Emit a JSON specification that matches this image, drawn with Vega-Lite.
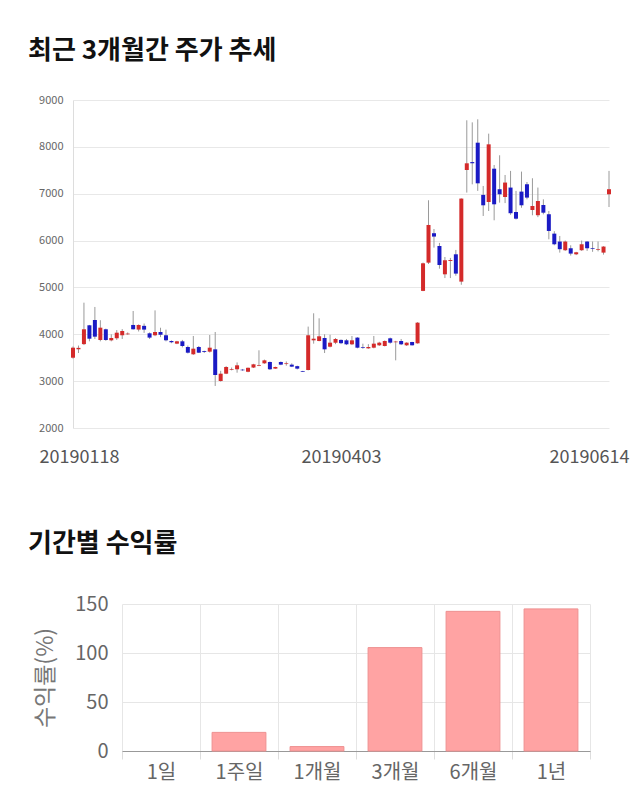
{
  "$schema": "https://vega.github.io/schema/vega-lite/v6.json",
  "background": "white",
  "padding": {"left": 28, "top": 38, "right": 5, "bottom": 5},
  "config": {
    "font": "Noto Sans CJK KR",
    "view": {"stroke": null}
  },
  "spacing": 65,
  "vconcat": [
    {
      "width": 536,
      "height": 328,
      "title": {"text": "최근 3개월간 주가 추세", "anchor": "start", "frame": "group", "dx": -45, "offset": 30, "fontSize": 26, "fontWeight": "bold", "color": "#111", "font": "Noto Sans CJK KR"},
      "data": {"values": [
        {"d":"20190118","o":3500,"c":3714,"h":3740,"l":3480},
        {"d":"20190121","o":3680,"c":3710,"h":3760,"l":3600},
        {"d":"20190122","o":3790,"c":4107,"h":4675,"l":3770},
        {"d":"20190123","o":4192,"c":3906,"h":4200,"l":3850},
        {"d":"20190124","o":4305,"c":3949,"h":4583,"l":3900},
        {"d":"20190125","o":3878,"c":4141,"h":4300,"l":3850},
        {"d":"20190128","o":4107,"c":3878,"h":4120,"l":3860},
        {"d":"20190129","o":3871,"c":3921,"h":4000,"l":3850},
        {"d":"20190130","o":3915,"c":4034,"h":4090,"l":3880},
        {"d":"20190131","o":3979,"c":4070,"h":4110,"l":3900},
        {"d":"20190201","o":4000,"c":4015,"h":4040,"l":3990},
        {"d":"20190207","o":4199,"c":4107,"h":4497,"l":4100},
        {"d":"20190208","o":4100,"c":4199,"h":4210,"l":4060},
        {"d":"20190211","o":4180,"c":4100,"h":4230,"l":4030},
        {"d":"20190212","o":4021,"c":3929,"h":4040,"l":3900},
        {"d":"20190213","o":3979,"c":4049,"h":4510,"l":3960},
        {"d":"20190214","o":4049,"c":3990,"h":4140,"l":3940},
        {"d":"20190215","o":3979,"c":3872,"h":4100,"l":3850},
        {"d":"20190218","o":3857,"c":3830,"h":3870,"l":3810},
        {"d":"20190219","o":3800,"c":3850,"h":3860,"l":3790},
        {"d":"20190220","o":3850,"c":3750,"h":3880,"l":3720},
        {"d":"20190221","o":3729,"c":3607,"h":3760,"l":3590},
        {"d":"20190222","o":3573,"c":3693,"h":3964,"l":3560},
        {"d":"20190225","o":3729,"c":3607,"h":3750,"l":3600},
        {"d":"20190226","o":3640,"c":3622,"h":3650,"l":3600},
        {"d":"20190227","o":3629,"c":3714,"h":3985,"l":3610},
        {"d":"20190228","o":3679,"c":3131,"h":4049,"l":2897},
        {"d":"20190304","o":3003,"c":3159,"h":3220,"l":2990},
        {"d":"20190305","o":3159,"c":3302,"h":3320,"l":3150},
        {"d":"20190306","o":3240,"c":3255,"h":3290,"l":3230},
        {"d":"20190307","o":3253,"c":3338,"h":3400,"l":3180},
        {"d":"20190308","o":3245,"c":3232,"h":3260,"l":3220},
        {"d":"20190311","o":3200,"c":3285,"h":3290,"l":3190},
        {"d":"20190312","o":3290,"c":3359,"h":3370,"l":3280},
        {"d":"20190313","o":3325,"c":3340,"h":3658,"l":3320},
        {"d":"20190314","o":3380,"c":3444,"h":3460,"l":3370},
        {"d":"20190315","o":3409,"c":3253,"h":3420,"l":3240},
        {"d":"20190318","o":3267,"c":3302,"h":3310,"l":3260},
        {"d":"20190319","o":3409,"c":3352,"h":3420,"l":3340},
        {"d":"20190320","o":3365,"c":3380,"h":3420,"l":3330},
        {"d":"20190321","o":3352,"c":3309,"h":3380,"l":3300},
        {"d":"20190322","o":3320,"c":3267,"h":3330,"l":3250},
        {"d":"20190325","o":3215,"c":3200,"h":3220,"l":3195},
        {"d":"20190326","o":3238,"c":3979,"h":4164,"l":3230},
        {"d":"20190327","o":3871,"c":3906,"h":4448,"l":3800},
        {"d":"20190328","o":3857,"c":3957,"h":4341,"l":3850},
        {"d":"20190329","o":3921,"c":3679,"h":4000,"l":3600},
        {"d":"20190401","o":3735,"c":3821,"h":3990,"l":3720},
        {"d":"20190402","o":3820,"c":3900,"h":3920,"l":3790},
        {"d":"20190403","o":3880,"c":3810,"h":3890,"l":3790},
        {"d":"20190404","o":3871,"c":3786,"h":3900,"l":3770},
        {"d":"20190405","o":3786,"c":3871,"h":3964,"l":3770},
        {"d":"20190408","o":3929,"c":3714,"h":3940,"l":3700},
        {"d":"20190409","o":3725,"c":3710,"h":3800,"l":3690},
        {"d":"20190410","o":3700,"c":3729,"h":3790,"l":3690},
        {"d":"20190411","o":3714,"c":3800,"h":3964,"l":3700},
        {"d":"20190412","o":3765,"c":3821,"h":3840,"l":3750},
        {"d":"20190415","o":3750,"c":3857,"h":3870,"l":3740},
        {"d":"20190416","o":3914,"c":3821,"h":3930,"l":3800},
        {"d":"20190417","o":3830,"c":3845,"h":3860,"l":3444},
        {"d":"20190418","o":3857,"c":3786,"h":3900,"l":3770},
        {"d":"20190419","o":3765,"c":3821,"h":3830,"l":3750},
        {"d":"20190422","o":3836,"c":3765,"h":3840,"l":3760},
        {"d":"20190423","o":3807,"c":4248,"h":4260,"l":3800},
        {"d":"20190424","o":4926,"c":5515,"h":5530,"l":4920},
        {"d":"20190425","o":5529,"c":6333,"h":6860,"l":5500},
        {"d":"20190426","o":6157,"c":6085,"h":6247,"l":5850},
        {"d":"20190429","o":5884,"c":5479,"h":5950,"l":5400},
        {"d":"20190430","o":5280,"c":5580,"h":5650,"l":5200},
        {"d":"20190502","o":5565,"c":5586,"h":5630,"l":5200},
        {"d":"20190503","o":5707,"c":5295,"h":5800,"l":5250},
        {"d":"20190507","o":5124,"c":6896,"h":6900,"l":5057},
        {"d":"20190508","o":7506,"c":7649,"h":8567,"l":7024},
        {"d":"20190509","o":7675,"c":7650,"h":8523,"l":7200},
        {"d":"20190510","o":8089,"c":7222,"h":8588,"l":7060},
        {"d":"20190513","o":6975,"c":6753,"h":7165,"l":6525},
        {"d":"20190514","o":6823,"c":8054,"h":8282,"l":6631},
        {"d":"20190515","o":7534,"c":6774,"h":7613,"l":6433},
        {"d":"20190516","o":7096,"c":6988,"h":7820,"l":6810},
        {"d":"20190517","o":6930,"c":7238,"h":7400,"l":6800},
        {"d":"20190520","o":7131,"c":6584,"h":7487,"l":6550},
        {"d":"20190521","o":6610,"c":6467,"h":7060,"l":6450},
        {"d":"20190522","o":7045,"c":6753,"h":7472,"l":6700},
        {"d":"20190523","o":7202,"c":6917,"h":7250,"l":6880},
        {"d":"20190524","o":6653,"c":6738,"h":7330,"l":6540},
        {"d":"20190527","o":6541,"c":6845,"h":7131,"l":6500},
        {"d":"20190528","o":6759,"c":6595,"h":6880,"l":6560},
        {"d":"20190529","o":6562,"c":6205,"h":6631,"l":6027},
        {"d":"20190530","o":6148,"c":5921,"h":6200,"l":5900},
        {"d":"20190531","o":5979,"c":5816,"h":6098,"l":5743},
        {"d":"20190603","o":5794,"c":5979,"h":6000,"l":5780},
        {"d":"20190604","o":5836,"c":5722,"h":5900,"l":5680},
        {"d":"20190605","o":5707,"c":5750,"h":5760,"l":5690},
        {"d":"20190607","o":5794,"c":5921,"h":6000,"l":5780},
        {"d":"20190610","o":5979,"c":5836,"h":5990,"l":5780},
        {"d":"20190611","o":5840,"c":5825,"h":5980,"l":5760},
        {"d":"20190612","o":5805,"c":5820,"h":5980,"l":5770},
        {"d":"20190613","o":5743,"c":5872,"h":5880,"l":5700},
        {"d":"20190614","o":6988,"c":7096,"h":7487,"l":6716}
      ]},
      "encoding": {
        "x": {
          "field": "d", "type": "ordinal", "sort": null,
          "scale": {"type": "point", "padding": 0},
          "axis": {
            "title": null,
            "values": ["20190118", "20190403", "20190614"],
            "labelAngle": 0,
            "labelFontSize": 18,
            "labelColor": "#555",
            "labelPadding": 20,
            "labelOffset": {"condition": [{"test": "datum.value == '20190614'", "value": -20}, {"test": "datum.value == '20190118'", "value": 6}], "value": 0},
            "ticks": false,
            "domain": false,
            "grid": false
          }
        }
      },
      "layer": [
        {
          "mark": {"type": "rule", "color": "#9a9a9a", "strokeWidth": 1},
          "encoding": {
            "y": {
              "field": "l", "type": "quantitative",
              "scale": {"domain": [2000, 9000], "nice": false, "zero": false},
              "axis": {
                "title": null,
                "values": [2000, 3000, 4000, 5000, 6000, 7000, 8000, 9000],
                "format": "d",
                "labelFontSize": 11,
                "labelColor": "#666",
                "labelPadding": 10,
                "ticks": false,
                "domain": true,
                "domainColor": "#dddddd",
                "gridColor": "#e8e8e8"
              }
            },
            "y2": {"field": "h"}
          }
        },
        {
          "mark": {"type": "bar", "size": 4},
          "encoding": {
            "y": {"field": "o", "type": "quantitative"},
            "y2": {"field": "c"},
            "color": {
              "condition": {"test": "datum.c >= datum.o", "value": "#d42a2a"},
              "value": "#1a1ac4"
            }
          }
        }
      ]
    },
    {
      "width": 517,
      "height": 147,
      "title": {"text": "기간별 수익률", "anchor": "start", "frame": "group", "dx": -45, "offset": 37, "fontSize": 26, "fontWeight": "bold", "color": "#111", "font": "Noto Sans CJK KR"},
      "data": {"values": [
        {"p": "1일", "v": null},
        {"p": "1주일", "v": 19},
        {"p": "1개월", "v": 4.5},
        {"p": "3개월", "v": 105.5},
        {"p": "6개월", "v": 142.5},
        {"p": "1년", "v": 145}
      ]},
      "mark": {"type": "bar", "color": "#ffa3a3", "stroke": "#ee9090", "strokeWidth": 1, "width": {"band": 0.69}},
      "encoding": {
        "x": {
          "field": "p", "type": "nominal", "sort": null,
          "scale": {"domain": ["1일", "1주일", "1개월", "3개월", "6개월", "1년"], "range": [49, 517], "paddingInner": 0, "paddingOuter": 0},
          "axis": {
            "title": null,
            "labelAngle": 0,
            "labelFontSize": 20,
            "labelColor": "#666",
            "labelPadding": 3,
            "tickBand": "extent",
            "ticks": true,
            "tickSize": 8,
            "tickColor": "#dddddd",
            "grid": true,
            "gridColor": "#e6e6e6",
            "domain": true,
            "domainColor": "#999999"
          }
        },
        "y": {
          "field": "v", "type": "quantitative",
          "scale": {"domain": [0, 150], "nice": false},
          "axis": {
            "title": "수익률(%)",
            "titleFontSize": 23,
            "titleFontWeight": "normal",
            "titleColor": "#777",
            "titlePadding": 17,
            "values": [0, 50, 100, 150],
            "labelFontSize": 20,
            "labelColor": "#666",
            "labelPadding": 14,
            "offset": -49,
            "ticks": false,
            "domain": false,
            "gridColor": "#e6e6e6"
          }
        }
      }
    }
  ]
}
